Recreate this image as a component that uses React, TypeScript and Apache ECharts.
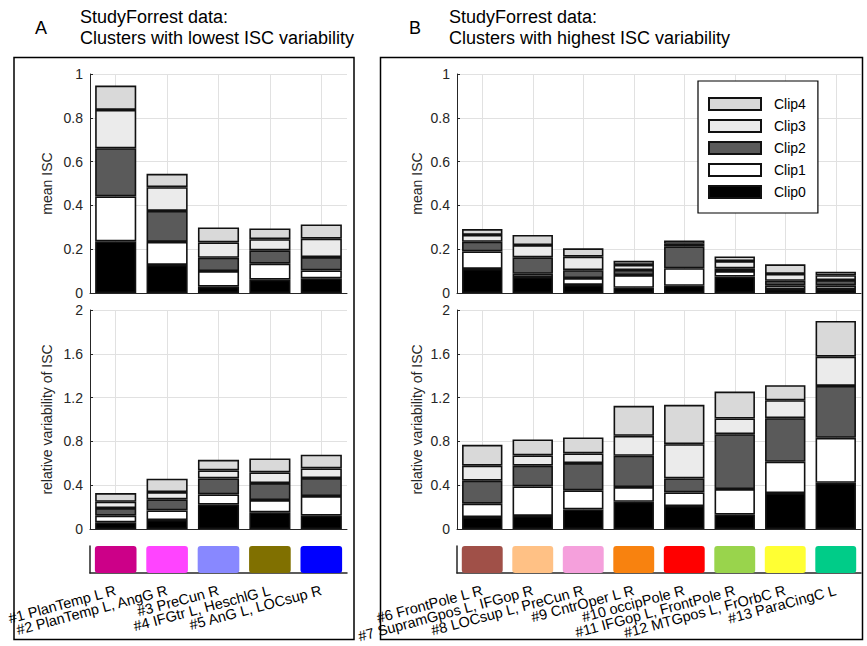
import React, { useEffect, useRef } from "react";
import * as echarts from "echarts";

// ---------- data ----------
const clipNames = ["Clip0", "Clip1", "Clip2", "Clip3", "Clip4"];
const clipColors = ["#000000", "#ffffff", "#5a5a5a", "#ebebeb", "#d9d9d9"];

const catsA = [
  "#1 PlanTemp L R",
  "#2 PlanTemp L, AngG R",
  "#3 PreCun R",
  "#4 IFGtr L, HeschlG L",
  "#5 AnG L, LOCsup R",
];
const catsB = [
  "#6 FrontPole L R",
  "#7 SupramGpos L, IFGop R",
  "#8 LOCsup L, PreCun R",
  "#9 CntrOper L R",
  "#10 occipPole R",
  "#11 IFGop L, FrontPole R",
  "#12 MTGpos L, FrOrbC R",
  "#13 ParaCingC L",
];
const stripColorsA = ["#CC0088", "#FF44FF", "#8888FF", "#807000", "#0000FF"];
const stripColorsB = ["#A05048", "#FFC185", "#F5A0DC", "#F8820F", "#FF0000", "#99D44C", "#FFFF33", "#00CC88"];

// mean ISC, panel A (one array per clip)
const meanA_clip0 = [0.236, 0.128, 0.029, 0.061, 0.067];
const meanA_clip1 = [0.205, 0.105, 0.071, 0.073, 0.036];
const meanA_clip2 = [0.22, 0.142, 0.061, 0.061, 0.061];
const meanA_clip3 = [0.175, 0.108, 0.07, 0.051, 0.084];
const meanA_clip4 = [0.111, 0.061, 0.068, 0.049, 0.065];

// relative variability of ISC, panel A
const varA_clip0 = [0.061, 0.082, 0.222, 0.152, 0.122];
const varA_clip1 = [0.061, 0.088, 0.094, 0.112, 0.179];
const varA_clip2 = [0.069, 0.101, 0.146, 0.155, 0.164];
const varA_clip3 = [0.058, 0.066, 0.073, 0.098, 0.088];
const varA_clip4 = [0.079, 0.122, 0.097, 0.127, 0.125];

// mean ISC, panel B
const meanB_clip0 = [0.11, 0.073, 0.037, 0.024, 0.033, 0.075, 0.018, 0.018];
const meanB_clip1 = [0.08, 0.015, 0.031, 0.058, 0.08, 0.025, 0.017, 0.017];
const meanB_clip2 = [0.044, 0.075, 0.036, 0.023, 0.1, 0.013, 0.021, 0.024];
const meanB_clip3 = [0.031, 0.056, 0.062, 0.023, 0.012, 0.033, 0.031, 0.022];
const meanB_clip4 = [0.027, 0.046, 0.038, 0.019, 0.015, 0.021, 0.044, 0.016];

// relative variability of ISC, panel B
const varB_clip0 = [0.109, 0.119, 0.179, 0.249, 0.21, 0.131, 0.328, 0.422];
const varB_clip1 = [0.122, 0.27, 0.174, 0.134, 0.124, 0.234, 0.286, 0.411];
const varB_clip2 = [0.21, 0.189, 0.249, 0.286, 0.128, 0.501, 0.398, 0.474];
const varB_clip3 = [0.137, 0.094, 0.088, 0.182, 0.313, 0.143, 0.164, 0.267];
const varB_clip4 = [0.191, 0.146, 0.146, 0.274, 0.359, 0.246, 0.137, 0.326];

const meanA = [meanA_clip0, meanA_clip1, meanA_clip2, meanA_clip3, meanA_clip4];
const varA = [varA_clip0, varA_clip1, varA_clip2, varA_clip3, varA_clip4];
const meanB = [meanB_clip0, meanB_clip1, meanB_clip2, meanB_clip3, meanB_clip4];
const varB = [varB_clip0, varB_clip1, varB_clip2, varB_clip3, varB_clip4];

// ---------- styling ----------
const FONT = "Liberation Sans, Arial, Helvetica, sans-serif";
const AX = "#262626";
const GRIDC = "#e1e1e1";

export default function App() {
  const ref = useRef<HTMLDivElement>(null);

  useEffect(() => {
    if (!ref.current) return;
    const chart = echarts.init(ref.current, null, { renderer: "svg" });

    const grids = [
      { left: 90, top: 74, width: 257, height: 219 }, // A top
      { left: 90, top: 310, width: 257, height: 219 }, // A bottom
      { left: 90, top: 546, width: 257, height: 27 }, // A strip
      { left: 457, top: 74, width: 404, height: 219 }, // B top
      { left: 457, top: 310, width: 404, height: 219 }, // B bottom
      { left: 457, top: 546, width: 404, height: 27 }, // B strip
    ];

    const xAxes: any[] = [];
    const yAxes: any[] = [];
    const series: any[] = [];

    const mainX = (grid: number, cats: string[]) => ({
      type: "category",
      gridIndex: grid,
      data: cats,
      axisLine: { show: true, lineStyle: { color: AX, width: 1 } },
      axisTick: { show: false },
      axisLabel: { show: false },
      splitLine: { show: false },
    });
    const gridX = (grid: number, cats: string[]) => ({
      type: "category",
      gridIndex: grid,
      boundaryGap: false,
      data: ["", ...cats.flatMap((c) => [c, ""])],
      axisLine: { show: false },
      axisTick: { show: false },
      axisLabel: { show: false },
      splitLine: {
        show: true,
        interval: (i: number) => i % 2 === 1,
        lineStyle: { color: GRIDC, width: 1 },
      },
    });
    const valY = (grid: number, max: number, interval: number, name: string, nameGap: number) => ({
      type: "value",
      gridIndex: grid,
      min: 0,
      max,
      interval,
      name,
      nameLocation: "middle",
      nameGap,
      nameTextStyle: { fontFamily: FONT, fontSize: 14, color: AX },
      axisLine: { show: true, lineStyle: { color: AX, width: 1 } },
      axisTick: { show: true, inside: true, length: 3, lineStyle: { color: AX } },
      axisLabel: {
        fontFamily: FONT,
        fontSize: 14,
        color: AX,
        margin: 7,
        formatter: (v: number) => String(Math.round(v * 10) / 10),
      },
      splitLine: { show: true, lineStyle: { color: GRIDC, width: 1 } },
    });
    const stripX = (grid: number, cats: string[]) => ({
      type: "category",
      gridIndex: grid,
      data: cats,
      axisLine: { show: true, lineStyle: { color: AX, width: 1.5 } },
      axisTick: { show: false },
      axisLabel: {
        show: true,
        interval: 0,
        rotate: 15,
        margin: 17,
        fontFamily: FONT,
        fontSize: 14.5,
        color: "#000",
      },
      splitLine: { show: false },
    });
    const stripY = (grid: number) => ({
      type: "value",
      gridIndex: grid,
      min: 0,
      max: 1,
      axisLine: { show: true, lineStyle: { color: AX, width: 1.5 } },
      axisTick: { show: false },
      axisLabel: { show: false },
      splitLine: { show: false },
    });

    const addStack = (data: number[][], xIdx: number, yIdx: number, key: string) => {
      data.forEach((vals, k) => {
        series.push({
          type: "bar",
          name: clipNames[k],
          stack: key,
          xAxisIndex: xIdx,
          yAxisIndex: yIdx,
          barWidth: "80%",
          data: vals,
          itemStyle: { color: clipColors[k], borderColor: "#111", borderWidth: 1.6 },
          emphasis: { disabled: true },
        });
      });
    };
    const addStrip = (colors: string[], xIdx: number, yIdx: number) => {
      series.push({
        type: "bar",
        xAxisIndex: xIdx,
        yAxisIndex: yIdx,
        barWidth: "81%",
        data: colors.map((c) => ({ value: 1, itemStyle: { color: c } })),
        itemStyle: { borderRadius: 3 },
        emphasis: { disabled: true },
      });
    };

    // Panel A
    xAxes.push(mainX(0, catsA), gridX(0, catsA)); // 0,1
    xAxes.push(mainX(1, catsA), gridX(1, catsA)); // 2,3
    xAxes.push(stripX(2, catsA)); // 4
    yAxes.push(valY(0, 1, 0.2, "mean ISC", 36)); // 0
    yAxes.push(valY(1, 2, 0.4, "relative variability of ISC", 36)); // 1
    yAxes.push(stripY(2)); // 2
    // Panel B
    xAxes.push(mainX(3, catsB), gridX(3, catsB)); // 5,6
    xAxes.push(mainX(4, catsB), gridX(4, catsB)); // 7,8
    xAxes.push(stripX(5, catsB)); // 9
    yAxes.push(valY(3, 1, 0.2, "mean ISC", 33)); // 3
    yAxes.push(valY(4, 2, 0.4, "relative variability of ISC", 33)); // 4
    yAxes.push(stripY(5)); // 5

    addStack(meanA, 0, 0, "meanA");
    addStack(varA, 2, 1, "varA");
    addStrip(stripColorsA, 4, 2);
    addStack(meanB, 5, 3, "meanB");
    addStack(varB, 7, 4, "varB");
    addStrip(stripColorsB, 9, 5);

    const titleStyle = { fontFamily: FONT, fontSize: 18, fill: "#000" };

    chart.setOption({
      animation: false,
      backgroundColor: "#fff",
      grid: grids,
      xAxis: xAxes,
      yAxis: yAxes,
      series,
      legend: {
        show: true,
        orient: "vertical",
        left: 698,
        top: 81,
        data: ["Clip4", "Clip3", "Clip2", "Clip1", "Clip0"],
        icon: "rect",
        itemWidth: 52,
        itemHeight: 12,
        itemGap: 8,
        selectedMode: false,
        backgroundColor: "#fff",
        borderColor: "#000",
        borderWidth: 1.2,
        padding: [16, 12, 14, 10],
        textStyle: { fontFamily: FONT, fontSize: 14, color: "#000", padding: [0, 0, 0, 8] },
      },
      graphic: [
        { type: "text", left: 35, top: 19, style: { ...titleStyle, text: "A" } },
        { type: "text", left: 80, top: 8, style: { ...titleStyle, text: "StudyForrest data:" } },
        { type: "text", left: 80, top: 29, style: { ...titleStyle, text: "Clusters with lowest ISC variability" } },
        { type: "text", left: 409, top: 19, style: { ...titleStyle, text: "B" } },
        { type: "text", left: 449, top: 8, style: { ...titleStyle, text: "StudyForrest data:" } },
        { type: "text", left: 449, top: 29, style: { ...titleStyle, text: "Clusters with highest ISC variability" } },
        {
          type: "rect",
          shape: { x: 14, y: 57.5, width: 340, height: 582 },
          style: { fill: "none", stroke: "#000", lineWidth: 1.5 },
          silent: true,
          z: 10,
        },
        {
          type: "rect",
          shape: { x: 380.5, y: 57.5, width: 482, height: 582 },
          style: { fill: "none", stroke: "#000", lineWidth: 1.5 },
          silent: true,
          z: 10,
        },
      ],
    });

    return () => chart.dispose();
  }, []);

  return (
    <div
      ref={ref}
      style={{ position: "fixed", left: 0, top: 0, width: 867, height: 646, background: "#fff" }}
    />
  );
}
